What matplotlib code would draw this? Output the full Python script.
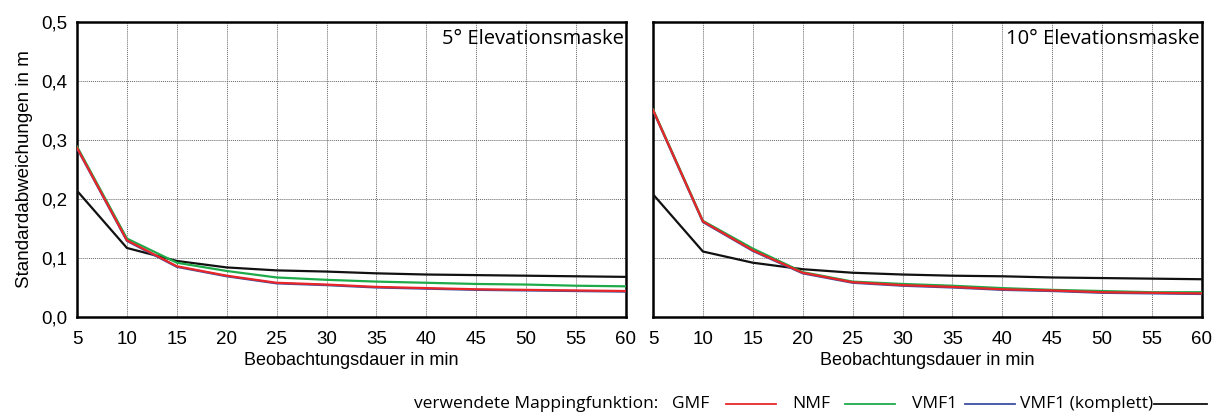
import matplotlib
matplotlib.use("Agg")
import matplotlib.pyplot as plt
from matplotlib.lines import Line2D
from matplotlib.ticker import FuncFormatter

# Beobachtungsdauer in min
dauer = [5, 10, 15, 20, 25, 30, 35, 40, 45, 50, 55, 60]

# 5° Elevationsmaske
gmf_5 = [0.287, 0.130, 0.086, 0.070, 0.058, 0.055, 0.051, 0.049, 0.047, 0.046, 0.045, 0.044]
nmf_5 = [0.289, 0.133, 0.092, 0.078, 0.067, 0.063, 0.060, 0.058, 0.056, 0.055, 0.053, 0.052]
vmf1_5 = [0.286, 0.129, 0.085, 0.069, 0.057, 0.054, 0.050, 0.048, 0.046, 0.045, 0.044, 0.043]
vmf1k_5 = [0.214, 0.117, 0.095, 0.084, 0.079, 0.077, 0.074, 0.072, 0.071, 0.070, 0.069, 0.068]

# 10° Elevationsmaske
gmf_10 = [0.351, 0.162, 0.113, 0.075, 0.059, 0.054, 0.051, 0.047, 0.045, 0.042, 0.041, 0.040]
nmf_10 = [0.352, 0.163, 0.116, 0.076, 0.060, 0.056, 0.053, 0.049, 0.046, 0.044, 0.042, 0.042]
vmf1_10 = [0.350, 0.161, 0.112, 0.074, 0.058, 0.053, 0.050, 0.046, 0.044, 0.041, 0.040, 0.039]
vmf1k_10 = [0.208, 0.111, 0.092, 0.081, 0.075, 0.072, 0.070, 0.069, 0.067, 0.066, 0.065, 0.064]

namen = ['GMF', 'NMF', 'VMF1', 'VMF1 (komplett)']
farben = ['#e8262a', '#1faa4a', '#3a4fa0', '#111111']
xticks = [5, 10, 15, 20, 25, 30, 35, 40, 45, 50, 55, 60]
yticks = [0.0, 0.1, 0.2, 0.3, 0.4, 0.5]

plt.rcParams['font.family'] = ['Liberation Sans', 'DejaVu Sans']
schmal = ['Open Sans', 'DejaVu Sans']

W, H = 1222, 418
fig = plt.figure(figsize=(W / 100, H / 100), dpi=100)
ax1 = fig.add_axes([77 / W, 1 - 317 / H, (626 - 77) / W, 295 / H])
ax2 = fig.add_axes([653 / W, 1 - 317 / H, (1202 - 653) / W, 295 / H])

komma = FuncFormatter(lambda v, p: f'{v:.1f}'.replace('.', ','))

panels = [
    (ax1, [gmf_5, nmf_5, vmf1_5, vmf1k_5], '5° Elevationsmaske'),
    (ax2, [gmf_10, nmf_10, vmf1_10, vmf1k_10], '10° Elevationsmaske'),
]

for ax, reihen, titel in panels:
    # schwarz unten, dann blau, grün, rot oben
    for i in [3, 2, 1, 0]:
        ax.plot(dauer, reihen[i], color=farben[i], lw=1.6, zorder=3 + (3 - i))
    ax.set_xlim(5, 60)
    ax.set_ylim(0, 0.5)
    ax.set_xticks(xticks)
    ax.set_yticks(yticks)
    ax.grid(True, color='#666666', linestyle=(0, (1, 1)), linewidth=0.7)
    ax.tick_params(length=0, labelsize=13.5, pad=7)
    ax.tick_params(axis='x', pad=10)
    for s in ax.spines.values():
        s.set_linewidth(1.8)
    ax.set_xlabel('Beobachtungsdauer in min', fontsize=13, labelpad=3)
    ax.text(0.996, 0.975, titel, transform=ax.transAxes, ha='right', va='top',
            fontsize=14.5, family=schmal)

ax1.yaxis.set_major_formatter(komma)
ax1.set_ylabel('Standardabweichungen in m', fontsize=13.5, labelpad=6)
ax2.set_yticklabels([])

# Legende unten: Text jeweils vor der Linie
ly = 1 - 404 / H
fig.text(658 / W, ly, 'verwendete Mappingfunktion:', ha='right', va='center',
         fontsize=12.5, family=schmal)
text_x = [672, 792, 912, 1020]
linie_x = [(726, 776), (845, 895), (965, 1015), (1154, 1207)]
for n, f, tx, (a, b) in zip(namen, farben, text_x, linie_x):
    fig.text(tx / W, ly, n, ha='left', va='center', fontsize=12.5, family=schmal)
    fig.add_artist(Line2D([a / W, b / W], [ly, ly], color=f, lw=1.3,
                          transform=fig.transFigure))

fig.savefig('out.png', dpi=100)
